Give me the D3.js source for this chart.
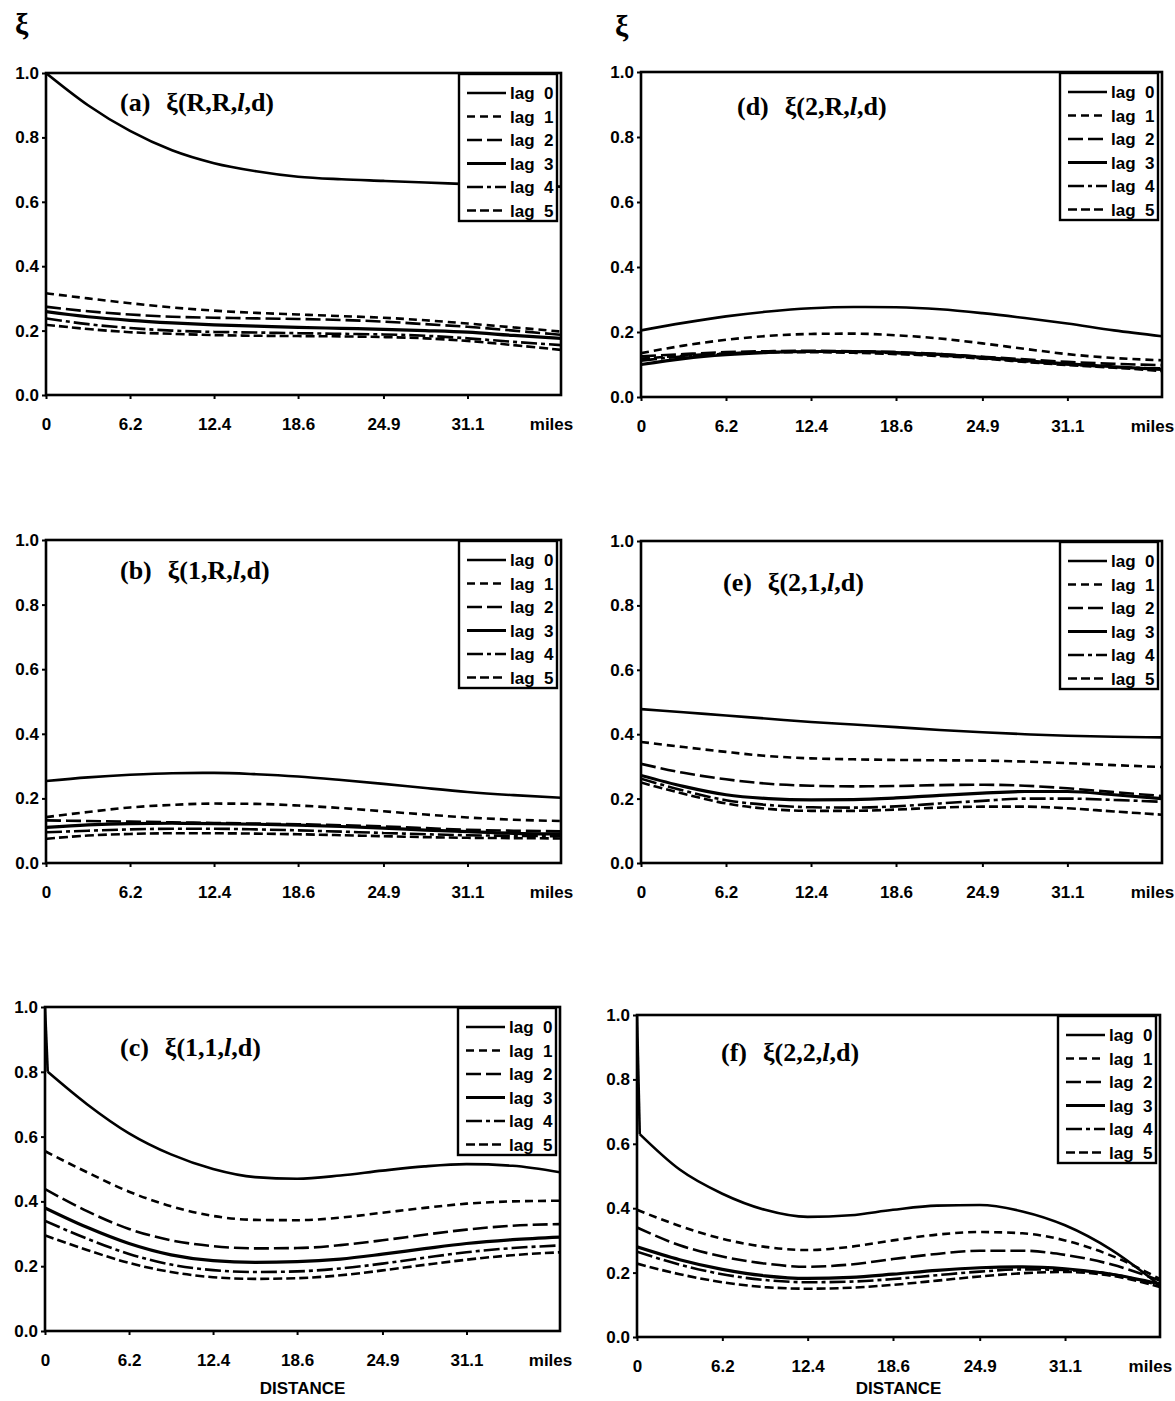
<!DOCTYPE html>
<html>
<head>
<meta charset="utf-8">
<title>Spatial correlation panels</title>
<script src="https://d3js.org/d3.v7.min.js"></script>
<style>
  body { margin: 0; background: #fff; }
  svg { display: block; }
  .tick-label { font-family: "Liberation Sans", Arial, sans-serif; font-weight: bold; font-size: 17px; fill: #000; }
  .legend-label { font-family: "Liberation Sans", Arial, sans-serif; font-weight: bold; font-size: 17px; fill: #000; }
  .panel-title { font-family: "Liberation Serif", "Times New Roman", serif; font-weight: bold; font-size: 26px; fill: #000; }
  .xi { font-family: "Liberation Serif", "DejaVu Serif", serif; font-weight: bold; font-size: 30px; fill: #000; }
</style>
</head>
<body>
<svg width="1175" height="1401"></svg>
<script>
// distances along the x axis, in miles (10 km steps are labelled)
const distances = [0, 3.1, 6.2, 9.3, 12.4, 15.5, 18.6, 21.8, 24.9, 28.0, 31.1, 34.5, 38.0];
const xTicks = [0, 6.2, 12.4, 18.6, 24.9, 31.1];
const xTickLabels = ["0", "6.2", "12.4", "18.6", "24.9", "31.1"];
const unitLabel = "miles";
const unitAt = 37.3;
const yTicks = [0, 0.2, 0.4, 0.6, 0.8, 1.0];
const lagNames = ["lag 0", "lag 1", "lag 2", "lag 3", "lag 4", "lag 5"];

// (a) xi(R,R,l,d)
const panelA = [
  [1.0, 0.90, 0.82, 0.76, 0.72, 0.695, 0.678, 0.670, 0.665, 0.660, 0.655, 0.650, 0.647],
  [0.316, 0.300, 0.285, 0.272, 0.262, 0.255, 0.250, 0.245, 0.240, 0.232, 0.222, 0.210, 0.197],
  [0.274, 0.260, 0.250, 0.243, 0.240, 0.238, 0.236, 0.233, 0.228, 0.220, 0.212, 0.200, 0.187],
  [0.259, 0.243, 0.232, 0.224, 0.218, 0.214, 0.210, 0.207, 0.204, 0.200, 0.195, 0.185, 0.176],
  [0.238, 0.220, 0.208, 0.200, 0.196, 0.194, 0.192, 0.190, 0.188, 0.184, 0.176, 0.165, 0.155],
  [0.218, 0.205, 0.195, 0.190, 0.186, 0.184, 0.183, 0.182, 0.180, 0.176, 0.168, 0.155, 0.140]
];
// (b) xi(1,R,l,d)
const panelB = [
  [0.254, 0.265, 0.273, 0.278, 0.279, 0.275, 0.268, 0.257, 0.245, 0.232, 0.220, 0.210, 0.202],
  [0.142, 0.158, 0.172, 0.180, 0.184, 0.183, 0.178, 0.170, 0.160, 0.150, 0.141, 0.134, 0.130],
  [0.132, 0.130, 0.128, 0.126, 0.124, 0.122, 0.120, 0.117, 0.113, 0.108, 0.103, 0.100, 0.098],
  [0.110, 0.118, 0.122, 0.123, 0.122, 0.120, 0.117, 0.113, 0.108, 0.102, 0.097, 0.092, 0.090],
  [0.095, 0.100, 0.104, 0.106, 0.106, 0.104, 0.101, 0.097, 0.093, 0.089, 0.086, 0.084, 0.083],
  [0.075, 0.085, 0.090, 0.092, 0.092, 0.091, 0.089, 0.086, 0.083, 0.080, 0.078, 0.077, 0.076]
];
// (c) xi(1,1,l,d)
const panelC = [
  [0.80, 0.70, 0.61, 0.545, 0.50, 0.475, 0.470, 0.480, 0.495, 0.508, 0.515, 0.510, 0.490],
  [0.555, 0.490, 0.430, 0.385, 0.355, 0.343, 0.342, 0.350, 0.365, 0.380, 0.393, 0.400, 0.402],
  [0.438, 0.370, 0.315, 0.280, 0.262, 0.255, 0.256, 0.265, 0.280, 0.297, 0.313, 0.325, 0.330],
  [0.380, 0.320, 0.270, 0.235, 0.217, 0.212, 0.214, 0.222, 0.237, 0.254, 0.270, 0.282, 0.290],
  [0.340, 0.285, 0.238, 0.205, 0.188, 0.182, 0.184, 0.193, 0.208, 0.226, 0.243, 0.256, 0.264],
  [0.295, 0.250, 0.210, 0.182, 0.166, 0.161, 0.163, 0.172, 0.187, 0.204, 0.220, 0.234, 0.243]
];
// (d) xi(2,R,l,d)
const panelD = [
  [0.205, 0.228, 0.248, 0.263, 0.273, 0.277, 0.276, 0.270, 0.258, 0.243, 0.226, 0.205, 0.187],
  [0.135, 0.158, 0.176, 0.188, 0.194, 0.195, 0.190, 0.180, 0.165, 0.148, 0.132, 0.120, 0.113],
  [0.125, 0.132, 0.138, 0.141, 0.142, 0.141, 0.138, 0.132, 0.124, 0.116, 0.108, 0.102, 0.098],
  [0.100, 0.118, 0.130, 0.137, 0.140, 0.140, 0.137, 0.131, 0.122, 0.112, 0.102, 0.093, 0.085],
  [0.112, 0.125, 0.133, 0.138, 0.140, 0.139, 0.135, 0.128, 0.119, 0.110, 0.100, 0.092, 0.088],
  [0.118, 0.127, 0.134, 0.138, 0.138, 0.136, 0.132, 0.126, 0.118, 0.108, 0.098, 0.090, 0.080]
];
// (e) xi(2,1,l,d)
const panelE = [
  [0.478, 0.468, 0.458, 0.448, 0.438, 0.430, 0.422, 0.413, 0.406, 0.400, 0.395, 0.392, 0.390],
  [0.376, 0.360, 0.345, 0.332, 0.325, 0.322, 0.320, 0.319, 0.318, 0.315, 0.310, 0.304, 0.298],
  [0.308, 0.280, 0.260, 0.246, 0.240, 0.238, 0.239, 0.242, 0.243, 0.240, 0.232, 0.220, 0.208],
  [0.272, 0.238, 0.212, 0.200, 0.196, 0.197, 0.202, 0.210, 0.217, 0.222, 0.222, 0.212, 0.200],
  [0.262, 0.225, 0.195, 0.180, 0.173, 0.172, 0.176, 0.185, 0.193, 0.200, 0.200, 0.196, 0.190],
  [0.250, 0.215, 0.185, 0.168, 0.162, 0.162, 0.166, 0.172, 0.175, 0.175, 0.170, 0.160, 0.150]
];
// (f) xi(2,2,l,d)
const panelF = [
  [0.630, 0.520, 0.445, 0.395, 0.373, 0.378, 0.395, 0.408, 0.410, 0.390, 0.347, 0.270, 0.160],
  [0.395, 0.345, 0.305, 0.280, 0.270, 0.280, 0.300, 0.318, 0.326, 0.322, 0.300, 0.252, 0.180],
  [0.340, 0.285, 0.250, 0.228, 0.218, 0.225, 0.242, 0.258, 0.268, 0.268, 0.255, 0.225, 0.175],
  [0.280, 0.240, 0.210, 0.190, 0.182, 0.185, 0.195, 0.207, 0.215, 0.218, 0.212, 0.195, 0.165],
  [0.265, 0.225, 0.195, 0.177, 0.170, 0.172, 0.180, 0.192, 0.203, 0.210, 0.208, 0.195, 0.160],
  [0.228, 0.195, 0.170, 0.155, 0.150, 0.153, 0.162, 0.175, 0.188, 0.198, 0.202, 0.190, 0.155]
];
// lag 0 value exactly at d = 0 (autocorrelation panels only)
const zeroDistancePeak = { c: 1.0, f: 1.0 };

// line styles per lag
const dashes = [null, "8,5", "15,5", null, "16,4,4,4", "9,4"];
const widths = [2.6, 2.6, 2.6, 3.2, 2.6, 2.6];

const panels = [
  { key: "a", label: "(a)", args: ["R,R,", ",d)"], series: panelA, left: 46, right: 561, top: 73, bottom: 395, tx: 74, ty: 38 },
  { key: "b", label: "(b)", args: ["1,R,", ",d)"], series: panelB, left: 46, right: 561, top: 540, bottom: 863, tx: 74, ty: 39 },
  { key: "c", label: "(c)", args: ["1,1,", ",d)"], series: panelC, left: 45, right: 560, top: 1007, bottom: 1331, tx: 75, ty: 49 },
  { key: "d", label: "(d)", args: ["2,R,", ",d)"], series: panelD, left: 641, right: 1162, top: 72, bottom: 397, tx: 96, ty: 43 },
  { key: "e", label: "(e)", args: ["2,1,", ",d)"], series: panelE, left: 641, right: 1162, top: 541, bottom: 863, tx: 82, ty: 50 },
  { key: "f", label: "(f)", args: ["2,2,", ",d)"], series: panelF, left: 637, right: 1160, top: 1015, bottom: 1337, tx: 84, ty: 46 }
];
const distanceLabelY = 1394;

const svg = d3.select("svg");
svg.append("rect").attr("width", 1175).attr("height", 1401).attr("fill", "#fff");

// the xi symbols above each column
svg.append("text").attr("class", "xi").attr("x", 15).attr("y", 34).text("ξ");
svg.append("text").attr("class", "xi").attr("x", 615).attr("y", 36).text("ξ");

panels.forEach(function (p) {
  const x = d3.scaleLinear().domain([0, 38]).range([p.left, p.right]);
  const y = d3.scaleLinear().domain([0, 1]).range([p.bottom, p.top]);
  const g = svg.append("g");

  const clip = "clip-" + p.key;
  g.append("clipPath").attr("id", clip)
    .append("rect").attr("x", p.left).attr("y", p.top - 2)
    .attr("width", p.right - p.left).attr("height", p.bottom - p.top + 2);

  // curves
  const line = d3.line().x(d => x(d[0])).y(d => y(d[1])).curve(d3.curveMonotoneX);
  const straight = d3.line().x(d => x(d[0])).y(d => y(d[1]));
  p.series.forEach(function (vals, lag) {
    let pts = distances.map((d, i) => [d, vals[i]]);
    if (lag === 0 && zeroDistancePeak[p.key] != null) {
      // drop from the value at d = 0 to the first fitted value
      pts[0] = [0.2, vals[0]];
      g.append("path")
        .attr("clip-path", "url(#" + clip + ")")
        .attr("d", straight([[0, zeroDistancePeak[p.key]], pts[0]]))
        .attr("fill", "none").attr("stroke", "#000").attr("stroke-width", widths[lag]);
    }
    g.append("path")
      .attr("clip-path", "url(#" + clip + ")")
      .attr("d", line(pts))
      .attr("fill", "none")
      .attr("stroke", "#000")
      .attr("stroke-width", widths[lag])
      .attr("stroke-dasharray", dashes[lag]);
  });

  // frame
  g.append("rect")
    .attr("x", p.left).attr("y", p.top)
    .attr("width", p.right - p.left).attr("height", p.bottom - p.top)
    .attr("fill", "none").attr("stroke", "#000").attr("stroke-width", 2.6);

  // y axis
  const yAxis = d3.axisLeft(y).tickValues(yTicks).tickFormat(d3.format(".1f")).tickSize(4).tickPadding(3);
  const ya = g.append("g").attr("transform", "translate(" + p.left + ",0)").call(yAxis);
  ya.select(".domain").remove();
  ya.selectAll("line").attr("stroke-width", 2);
  ya.selectAll("text").attr("class", "tick-label").attr("font-size", null).attr("font-family", null);

  // x axis
  const xAxis = d3.axisBottom(x).tickValues(xTicks).tickFormat((d, i) => xTickLabels[i]).tickSize(4).tickPadding(19);
  const xa = g.append("g").attr("transform", "translate(0," + p.bottom + ")").call(xAxis);
  xa.select(".domain").remove();
  xa.selectAll("line").attr("stroke-width", 2);
  xa.selectAll("text").attr("class", "tick-label").attr("font-size", null).attr("font-family", null);
  g.append("text").attr("class", "tick-label")
    .attr("x", x(unitAt)).attr("y", p.bottom + 35)
    .attr("text-anchor", "middle").text(unitLabel);

  if (p.key === "c" || p.key === "f") {
    g.append("text").attr("class", "tick-label")
      .attr("x", x(19)).attr("y", distanceLabelY)
      .attr("text-anchor", "middle").attr("font-size", 17).text("DISTANCE");
  }

  // panel title
  const t = g.append("text").attr("class", "panel-title")
    .attr("x", p.left + p.tx).attr("y", p.top + p.ty);
  t.append("tspan").text(p.label);
  t.append("tspan").attr("dx", 16).text("ξ(" + p.args[0]);
  t.append("tspan").attr("font-style", "italic").text("l");
  t.append("tspan").text(p.args[1]);

  // legend
  const lw = 98, lh = 147, rowH = 23.5;
  const lx = p.right - lw - 4, ly = p.top + 1;
  const lg = g.append("g").attr("transform", "translate(" + lx + "," + ly + ")");
  lg.append("rect").attr("width", lw).attr("height", lh)
    .attr("fill", "#fff").attr("stroke", "#000").attr("stroke-width", 2.4);
  lagNames.forEach(function (name, lag) {
    const cy = 19 + lag * rowH;
    lg.append("line")
      .attr("x1", 8).attr("x2", 47).attr("y1", cy).attr("y2", cy)
      .attr("stroke", "#000").attr("stroke-width", widths[lag])
      .attr("stroke-dasharray", dashes[lag]);
    lg.append("text").attr("class", "legend-label").attr("x", 51).attr("y", cy + 6)
      .text(name.split(" ")[0]);
    lg.append("text").attr("class", "legend-label").attr("x", 85).attr("y", cy + 6)
      .text(name.split(" ")[1]);
  });
});
</script>
</body>
</html>
